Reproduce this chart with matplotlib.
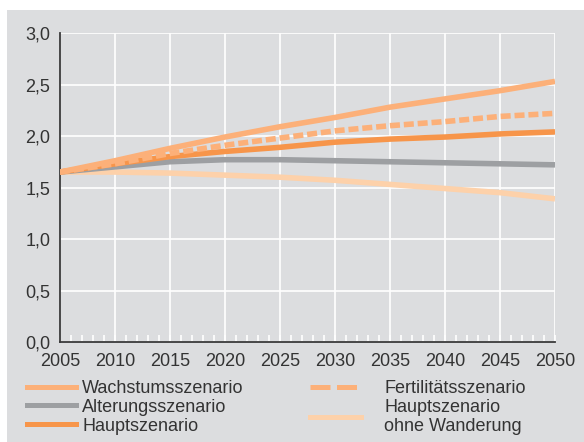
import matplotlib
matplotlib.use('Agg')
import matplotlib.pyplot as plt
from matplotlib.lines import Line2D
from matplotlib.patches import Rectangle
from matplotlib.ticker import MultipleLocator, FuncFormatter

plt.rcParams['font.family'] = ['Liberation Sans', 'DejaVu Sans']

# data
years = [2005, 2010, 2015, 2020, 2025, 2030, 2035, 2040, 2045, 2050]
wachstum = [1.65, 1.76, 1.88, 1.99, 2.09, 2.18, 2.28, 2.36, 2.44, 2.53]
fertilitaet = [1.65, 1.73, 1.83, 1.91, 1.98, 2.05, 2.10, 2.14, 2.19, 2.22]
haupt = [1.65, 1.73, 1.80, 1.85, 1.89, 1.94, 1.97, 1.99, 2.02, 2.04]
alterung = [1.65, 1.70, 1.75, 1.77, 1.77, 1.76, 1.75, 1.74, 1.73, 1.72]
ohne_wanderung = [1.65, 1.65, 1.64, 1.62, 1.60, 1.57, 1.53, 1.49, 1.45, 1.39]

c_wachstum = '#fcb079'
c_haupt = '#f7954a'
c_alterung = '#9d9fa2'
c_ohne = '#fdd1aa'
bg = '#dcdddf'
txt = '#333333'

fig = plt.figure(figsize=(5.84, 4.42), dpi=100, facecolor='white')
# grey panel behind everything
fig.add_artist(Rectangle((7/584, 0), 1, 1 - 10/442, transform=fig.transFigure,
                         facecolor=bg, edgecolor='none', zorder=-10))

ax = fig.add_axes([60/584, 1 - 342/442, 495/584, 309/442])
ax.set_facecolor(bg)

lw = 4
ax.plot(years, ohne_wanderung, color=c_ohne, lw=lw, solid_capstyle='butt', zorder=3)
ax.plot(years, alterung, color=c_alterung, lw=lw, solid_capstyle='butt', zorder=3)
ax.plot(years, haupt, color=c_haupt, lw=lw, solid_capstyle='butt', zorder=3)
ax.plot(years, fertilitaet, color=c_wachstum, lw=lw, dashes=(1.8, 0.7), zorder=3)
ax.plot(years, wachstum, color=c_wachstum, lw=lw, solid_capstyle='butt', zorder=3)

ax.set_xlim(2005, 2050)
ax.set_ylim(0, 3)
ax.xaxis.set_major_locator(MultipleLocator(5))
ax.xaxis.set_minor_locator(MultipleLocator(1))
ax.yaxis.set_major_locator(MultipleLocator(0.5))
ax.yaxis.set_major_formatter(FuncFormatter(lambda v, p: ('%.1f' % v).replace('.', ',')))
ax.grid(True, which='major', color='white', lw=1.2, zorder=1)
ax.set_axisbelow(True)

for s in ['top', 'right']:
    ax.spines[s].set_visible(False)
for s in ['left', 'bottom']:
    ax.spines[s].set_color('#3a3a3a')
    ax.spines[s].set_linewidth(1.3)

ax.tick_params(axis='y', length=0, pad=7, labelsize=13, labelcolor=txt)
ax.tick_params(axis='x', which='major', direction='in', length=5, color='white',
               width=1.2, pad=8, labelsize=13, labelcolor=txt)
ax.tick_params(axis='x', which='minor', direction='in', length=5, color='white', width=1.2)

# legend, two columns
h1 = [Line2D([], [], color=c_wachstum, lw=3.6),
      Line2D([], [], color=c_alterung, lw=3.6),
      Line2D([], [], color=c_haupt, lw=3.6)]
l1 = ['Wachstumsszenario', 'Alterungsszenario', 'Hauptszenario']
leg1 = fig.legend(h1, l1, loc='upper left', bbox_to_anchor=(27/584, 1 - 380/442),
                  frameon=False, borderpad=0, borderaxespad=0, handlelength=2.7,
                  handletextpad=0.35, labelspacing=0.1, fontsize=13, labelcolor=txt)

h2 = [Line2D([], [], color=c_wachstum, lw=3.6, dashes=(4.0, 1.3)),
      Line2D([], [], color=c_ohne, lw=3.6)]
l2 = ['Fertilitätsszenario', 'Hauptszenario\nohne Wanderung']
leg2 = fig.legend(h2, l2, loc='upper left', bbox_to_anchor=(310/584, 1 - 380/442),
                  frameon=False, borderpad=0, borderaxespad=0, handlelength=2.8,
                  handletextpad=1.3, labelspacing=0.1, fontsize=13, labelcolor=txt)

fig.savefig('out.png', dpi=100, facecolor='white')
